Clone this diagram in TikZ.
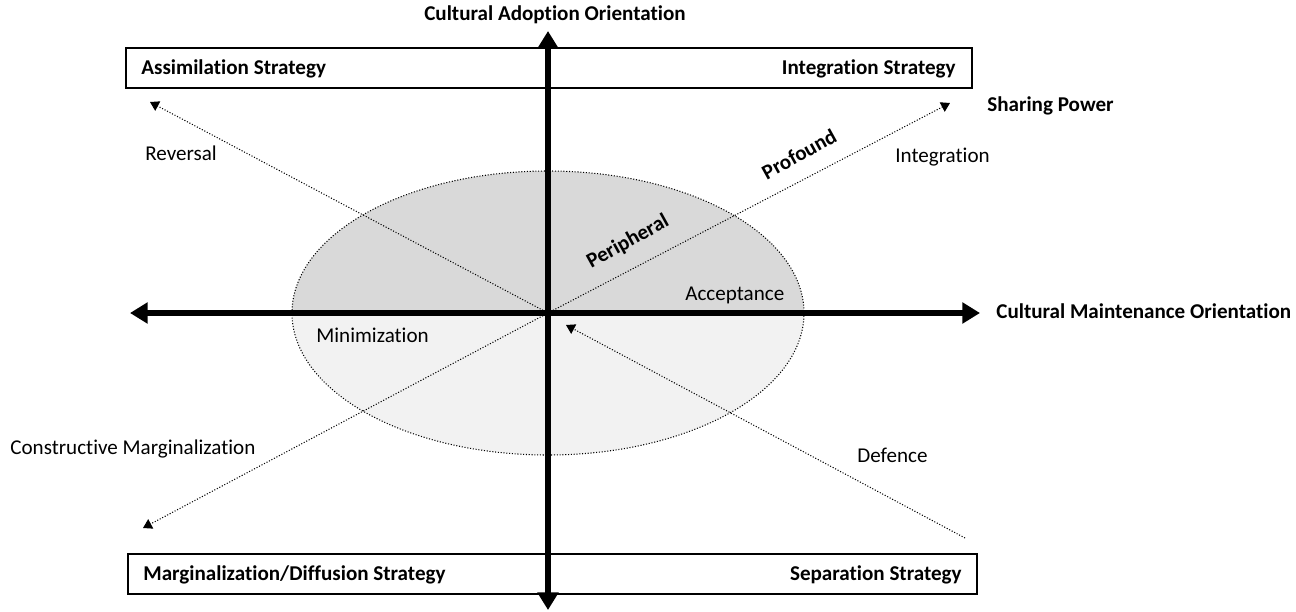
\documentclass[tikz,border=0pt]{standalone}
\usepackage{fontspec}
\setmainfont{Carlito}[Ligatures=NoCommon]
\usetikzlibrary{arrows.meta}

\begin{document}
\begin{tikzpicture}[x=0.02cm, y=-0.02cm,
    every node/.style={font=\fontsize{12}{14}\selectfont, inner sep=0pt},
    strong/.style={font=\fontsize{12}{14}\selectfont\bfseries},
    axisline/.style={line width=3.4pt, {Triangle[length=10pt,width=11.5pt]}-{Triangle[length=10pt,width=11.5pt]}},
    pathline/.style={densely dotted, line width=0.6pt, -{Triangle[length=5pt,width=6pt]}},
    stratbox/.style={draw, line width=0.8pt, fill=white}]
    \useasboundingbox (0,0) rectangle (1296,612);
    \def\rx{256}
    \def\ry{142}
    % anchor points
    \coordinate (O) at (548,313);
    \coordinate (N) at (548,31);
    \coordinate (S) at (548,610);
    \coordinate (W) at (130,313);
    \coordinate (E) at (980,313);
    \coordinate (revtip) at (150,102);
    \coordinate (inttip) at (950,103);
    \coordinate (cmtip) at (143,528);
    \coordinate (defstart) at (965,538);
    \coordinate (deftip) at (566,325);
    % strategy boxes
    \draw[stratbox] (126,48) rectangle (972,88);
    \draw[stratbox] (128,554) rectangle (977,594);
    % ellipse, upper and lower halves
    \begin{scope}
        \clip (0,0) rectangle (1296,313);
        \fill[gray!30] (O) ellipse [x radius=\rx, y radius=\ry];
    \end{scope}
    \begin{scope}
        \clip (0,313) rectangle (1296,612);
        \fill[gray!10] (O) ellipse [x radius=\rx, y radius=\ry];
    \end{scope}
    \draw[densely dotted, line width=0.6pt] (O) ellipse [x radius=\rx, y radius=\ry];
    % dotted paths
    \draw[pathline] (O) -- (revtip);
    \draw[pathline] (O) -- (inttip);
    \draw[pathline] (O) -- (cmtip);
    \draw[pathline] (defstart) -- (deftip);
    % axes
    \draw[axisline] (W) -- (E);
    \draw[axisline] (S) -- (N);
    % labels
    \node[strong] (adopt) at (555,15) {Cultural Adoption Orientation};
    \node[strong, anchor=west] (maint) at (996,311) {Cultural Maintenance Orientation};
    \node[strong, anchor=west] (assim) at (141,69) {Assimilation Strategy};
    \node[strong, anchor=east] (integs) at (956,69) {Integration Strategy};
    \node[strong, anchor=west] (marg) at (143,575) {Marginalization/Diffusion Strategy};
    \node[strong, anchor=east] (sep) at (962,575) {Separation Strategy};
    \node[strong, anchor=west] (share) at (987,106) {Sharing Power};
    \node[anchor=west] (integ) at (895,157) {Integration};
    \node[anchor=west] (rev) at (145,153) {Reversal};
    \node[anchor=west] (acc) at (685,295) {Acceptance};
    \node[anchor=west] (mini) at (316,335) {Minimization};
    \node[anchor=west] (cm) at (10,449) {Constructive Marginalization};
    \node[anchor=west] (def) at (857,455) {Defence};
    \node[strong, rotate=29] (periph) at (628,242) {Peripheral};
    \node[strong, rotate=29] (prof) at (799,154) {Profound};
\end{tikzpicture}
\end{document}
